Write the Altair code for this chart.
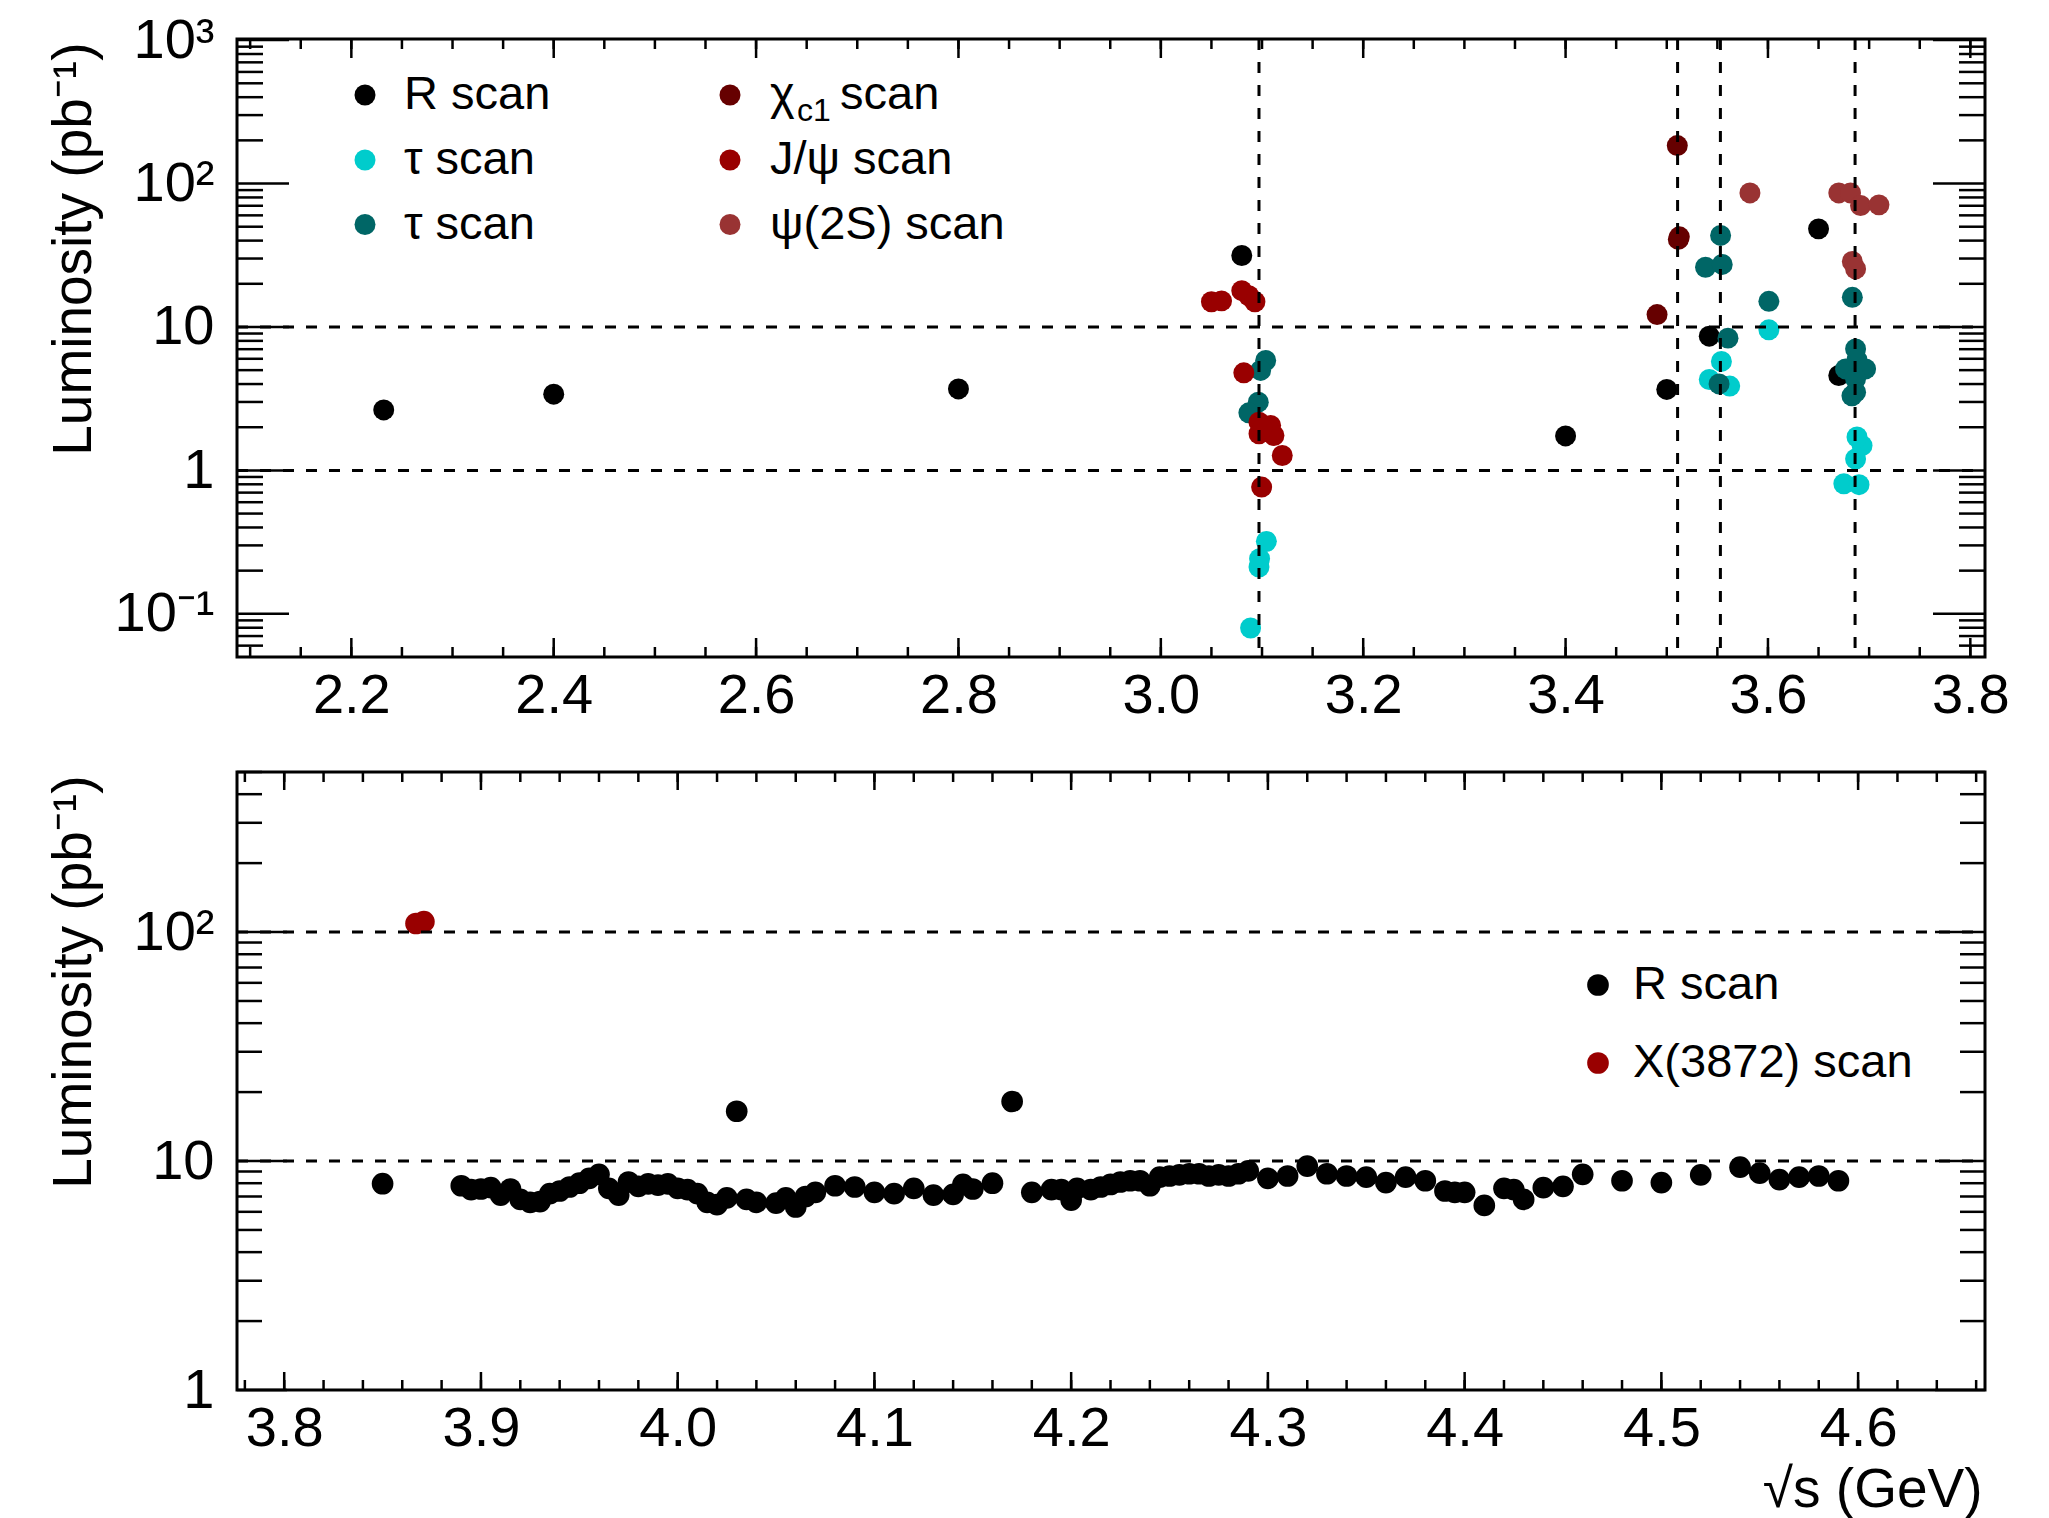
import altair as alt
import numpy as np
import pandas as pd

FONT = "Liberation Sans"
W, H = 1748, 618

# ---------------- top panel data ----------------
r_top_x = [2.232, 2.400, 2.800, 3.080, 3.400, 3.500, 3.542, 3.650, 3.670]
r_top_y = [2.64, 3.40, 3.70, 31.5, 1.74, 3.67, 8.63, 48.3, 4.59]

tau1_x = [3.0887, 3.0970, 3.0976, 3.1043, 3.5420, 3.5540, 3.5622, 3.6009,
          3.6750, 3.6900, 3.6866, 3.6930, 3.6880]
tau1_y = [0.0796, 0.212, 0.242, 0.320, 4.30, 5.75, 3.87, 9.55,
          0.807, 0.795, 1.20, 1.49, 1.71]

tau2_x = [3.0963, 3.0870, 3.1036, 3.0986, 3.5532, 3.5383, 3.5548, 3.6009,
          3.5605, 3.5517, 3.6834, 3.6866, 3.6880, 3.6767, 3.6965, 3.6866,
          3.6866, 3.6830]
tau2_y = [2.99, 2.52, 5.84, 4.98, 43.5, 26.1, 27.3, 15.1,
          8.36, 4.01, 16.1, 7.03, 5.90, 5.10, 5.10, 4.35,
          3.51, 3.31]

chic1_x = [3.4904, 3.5104, 3.5114, 3.5124]
chic1_y = [12.2, 184.0, 40.8, 42.5]

jpsi_x = [3.050, 3.060, 3.080, 3.087, 3.093, 3.082, 3.097, 3.1085, 3.097,
          3.1118, 3.120, 3.0996, 3.100]
jpsi_y = [15.0, 15.2, 17.9, 16.5, 15.0, 4.79, 2.17, 2.06, 1.80,
          1.75, 1.27, 0.765, 1.95]

psi2s_x = [3.5822, 3.6700, 3.6816, 3.6915, 3.7097, 3.6834, 3.6866]
psi2s_y = [86.0, 86.0, 86.0, 70.3, 71.0, 28.6, 25.4]

# ---------------- bottom panel data ----------------
r_bot_x = [3.850, 3.890, 3.895, 3.900, 3.905, 3.910, 3.915, 3.920, 3.925,
           3.930, 3.935, 3.940, 3.945, 3.950, 3.955, 3.960, 3.965, 3.970,
           3.975, 3.980, 3.985, 3.990, 3.995, 4.000, 4.005, 4.010, 4.015,
           4.020, 4.025, 4.030, 4.035, 4.040, 4.050, 4.055, 4.060, 4.065,
           4.070, 4.080, 4.090, 4.100, 4.110, 4.120, 4.130, 4.140, 4.145,
           4.150, 4.160, 4.170, 4.180, 4.190, 4.195, 4.200, 4.203, 4.210,
           4.215, 4.220, 4.225, 4.230, 4.235, 4.240, 4.245, 4.250, 4.255,
           4.260, 4.265, 4.270, 4.275, 4.280, 4.285, 4.290, 4.300, 4.310,
           4.320, 4.330, 4.340, 4.350, 4.360, 4.370, 4.380, 4.390, 4.395,
           4.400, 4.410, 4.420, 4.425, 4.430, 4.440, 4.450, 4.460, 4.480,
           4.500, 4.520, 4.540, 4.550, 4.560, 4.570, 4.580, 4.590]
r_bot_y = [7.96, 7.80, 7.50, 7.55, 7.65, 7.10, 7.55, 6.80, 6.60,
           6.65, 7.20, 7.40, 7.70, 8.00, 8.40, 8.75, 7.60, 7.10,
           8.10, 7.75, 7.95, 7.85, 7.95, 7.60, 7.50, 7.20, 6.60,
           6.45, 6.90, 16.5, 6.80, 6.60, 6.55, 6.90, 6.30, 7.00,
           7.30, 7.80, 7.70, 7.30, 7.20, 7.60, 7.10, 7.15, 7.90,
           7.55, 8.00, 18.2, 7.30, 7.50, 7.50, 6.75, 7.60, 7.50,
           7.70, 7.90, 8.10, 8.20, 8.20, 7.80, 8.50, 8.60, 8.70,
           8.80, 8.80, 8.60, 8.70, 8.60, 8.80, 9.05, 8.40, 8.60,
           9.50, 8.80, 8.60, 8.50, 8.05, 8.50, 8.20, 7.40, 7.30,
           7.30, 6.40, 7.60, 7.50, 6.80, 7.65, 7.75, 8.75, 8.20,
           8.05, 8.70, 9.40, 8.85, 8.30, 8.50, 8.60, 8.20]

x3872_x = [3.867, 3.871]
x3872_y = [109.0, 111.0]

# ---------------- series / colours ----------------
series = ["R", "tau1", "tau2", "chic1", "jpsi", "psi2s", "x3872"]
colors = ["#000000", "#00CCCC", "#006666", "#660000", "#990000", "#993333", "#990000"]

# ---------------- axes, ticks, reference lines ----------------
top_xdom = [2.087, 3.8145]
top_ydom = [0.05, 1018]
bot_xdom = [3.776, 4.6645]
bot_ydom = [1, 500]

top_xlabels = [2.2, 2.4, 2.6, 2.8, 3.0, 3.2, 3.4, 3.6, 3.8]
top_xminor = [round(v, 2) for v in np.arange(2.10, 3.8101, 0.05)]
top_ymajor = [0.1, 1, 10, 100, 1000]
top_yminor = [0.06, 0.07, 0.08, 0.09, 0.2, 0.3, 0.4, 0.5, 0.6, 0.7, 0.8, 0.9,
              2, 3, 4, 5, 6, 7, 8, 9, 20, 30, 40, 50, 60, 70, 80, 90,
              200, 300, 400, 500, 600, 700, 800, 900]

bot_xlabels = [3.8, 3.9, 4.0, 4.1, 4.2, 4.3, 4.4, 4.5, 4.6]
bot_xminor = [round(v, 2) for v in np.arange(3.78, 4.6601, 0.02)]
bot_ymajor = [1, 10, 100]
bot_yminor = [2, 3, 4, 5, 6, 7, 8, 9, 20, 30, 40, 50, 60, 70, 80, 90, 200, 300, 400, 500]

top_vlines = [3.097, 3.5107, 3.553, 3.6861]
top_hlines = [1, 10]
bot_hlines = [10, 100]

top_legend = [("R scan", "#000000"), ("τ scan", "#00CCCC"), ("τ scan", "#006666")]
top_legend2 = [("χ", "#660000"), ("J/ψ scan", "#990000"), ("ψ(2S) scan", "#993333")]
bot_legend = [("R scan", "#000000"), ("X(3872) scan", "#990000")]

YTITLE = "Luminosity (pb⁻¹)"
LABEL_FS = 56
TITLE_FS = 55
LEG_FS = 47
TICK_W = 2.5
DASH_W = 3


def make_df(pairs):
    frames = []
    for name, xs, ys in pairs:
        frames.append(pd.DataFrame({"x": xs, "y": ys, "s": name}))
    return pd.concat(frames, ignore_index=True)


def panel(df, xdom, ydom, xlabels, xminor, ymajor, yminor, hlines, vlines,
          ylabel_expr, xtitle, legend_layers, xmajor_len, ymajor_len, msize):
    xs = alt.Scale(domain=xdom, nice=False, zero=False)
    ys = alt.Scale(type="log", domain=ydom, nice=False)
    xaxis = alt.Axis(values=xlabels, format=".1f", ticks=False, tickSize=0,
                     domain=False, grid=False, labelFont=FONT,
                     labelFontSize=LABEL_FS, labelPadding=11, labelFlush=False,
                     labelOverlap=False, labelColor="black",
                     title=xtitle if xtitle else None,
                     titleFont=FONT, titleFontSize=TITLE_FS, titleFontWeight="normal",
                     titleAlign="right", titleAnchor="end", titleX=W - 3, titleY=116,
                     titleBaseline="alphabetic", titleColor="black")
    yaxis = alt.Axis(values=ymajor, labelExpr=ylabel_expr, ticks=False, tickSize=0,
                     domain=False, grid=False, labelFont=FONT,
                     labelFontSize=LABEL_FS, labelPadding=23, labelFlush=False,
                     labelOverlap=False, labelColor="black",
                     title=YTITLE, titleFont=FONT, titleFontSize=TITLE_FS,
                     titleFontWeight="normal", titleAngle=-90, titleAlign="right",
                     titleBaseline="alphabetic", titleX=-147, titleY=3,
                     titleColor="black")
    X = lambda f: alt.X(f, type="quantitative", scale=xs, axis=xaxis)
    Y = lambda f: alt.Y(f, type="quantitative", scale=ys, axis=yaxis)

    pts = alt.Chart(df).mark_circle(size=msize, opacity=1).encode(
        x=X("x"), y=Y("y"),
        color=alt.Color("s:N", scale=alt.Scale(domain=series, range=colors), legend=None),
    )
    layers = [pts]
    if vlines:
        layers.append(alt.Chart(pd.DataFrame({"v": vlines})).mark_rule(
            color="black", strokeWidth=DASH_W, strokeDash=[11, 12]).encode(
            x=X("v"), y=alt.value(0), y2=alt.value(H)))
    layers.append(alt.Chart(pd.DataFrame({"v": hlines})).mark_rule(
        color="black", strokeWidth=DASH_W, strokeDash=[11, 12]).encode(
        y=Y("v"), x=alt.value(0), x2=alt.value(W)))
    # inward ticks on all four sides
    for vals, ln in ((xlabels, xmajor_len), (xminor, 10)):
        d = pd.DataFrame({"v": vals})
        layers.append(alt.Chart(d).mark_rule(color="black", strokeWidth=TICK_W).encode(
            x=X("v"), y=alt.value(H), y2=alt.value(H - ln)))
        layers.append(alt.Chart(d).mark_rule(color="black", strokeWidth=TICK_W).encode(
            x=X("v"), y=alt.value(0), y2=alt.value(ln)))
    for vals, ln in ((ymajor, ymajor_len), (yminor, ymajor_len // 2)):
        d = pd.DataFrame({"v": vals})
        layers.append(alt.Chart(d).mark_rule(color="black", strokeWidth=TICK_W).encode(
            y=Y("v"), x=alt.value(0), x2=alt.value(ln)))
        layers.append(alt.Chart(d).mark_rule(color="black", strokeWidth=TICK_W).encode(
            y=Y("v"), x=alt.value(W - ln), x2=alt.value(W)))
    layers += legend_layers
    return alt.layer(*layers).properties(width=W, height=H)


one = pd.DataFrame({"a": [0]})


def leg_marker(px, py, color, msize):
    return alt.Chart(one).mark_circle(size=msize, opacity=1, color=color).encode(
        x=alt.value(px), y=alt.value(py))


def leg_text(px, py, txt, fs=LEG_FS):
    return alt.Chart(one).mark_text(align="left", baseline="middle", font=FONT,
                                    fontSize=fs, color="black", text=txt).encode(
        x=alt.value(px), y=alt.value(py))


rows_top = [56, 121, 185.5]
top_leg = []
for (lab, col), ry in zip(top_legend, rows_top):
    top_leg += [leg_marker(128, ry, col, 440), leg_text(167, ry, lab)]
for (lab, col), ry in zip(top_legend2, rows_top):
    top_leg.append(leg_marker(493, ry, col, 440))
    if lab == "χ":
        top_leg += [leg_text(533, ry, "χ"), leg_text(560, ry + 16, "c1", 32),
                    leg_text(603, ry, "scan")]
    else:
        top_leg.append(leg_text(533, ry, lab))

bot_leg = []
for (lab, col), ry in zip(bot_legend, [213, 291]):
    bot_leg += [leg_marker(1361, ry, col, 470), leg_text(1396, ry, lab)]

top_df = make_df([("R", r_top_x, r_top_y), ("tau1", tau1_x, tau1_y),
                  ("tau2", tau2_x, tau2_y), ("chic1", chic1_x, chic1_y),
                  ("jpsi", jpsi_x, jpsi_y), ("psi2s", psi2s_x, psi2s_y)])
bot_df = make_df([("R", r_bot_x, r_bot_y), ("x3872", x3872_x, x3872_y)])

top_expr = ("datum.value >= 999 ? '10³' : datum.value >= 99 ? '10²' : "
            "datum.value >= 9 ? '10' : datum.value >= 0.9 ? '1' : '10⁻¹'")
bot_expr = "datum.value >= 99 ? '10²' : datum.value >= 9 ? '10' : '1'"

top = panel(top_df, top_xdom, top_ydom, top_xlabels, top_xminor, top_ymajor,
            top_yminor, top_hlines, top_vlines, top_expr, None, top_leg, 19, 52, 440)
bottom = panel(bot_df, bot_xdom, bot_ydom, bot_xlabels, bot_xminor, bot_ymajor,
               bot_yminor, bot_hlines, None, bot_expr, "√s (GeV)", bot_leg, 18, 50, 470)

chart = alt.vconcat(top, bottom, spacing=44).properties(
    padding={"left": 44, "top": 10, "right": 5, "bottom": 0},
    background="white",
).configure_view(stroke="black", strokeWidth=3)

chart.save("out.html", embed_options={"renderer": "svg", "actions": False})
